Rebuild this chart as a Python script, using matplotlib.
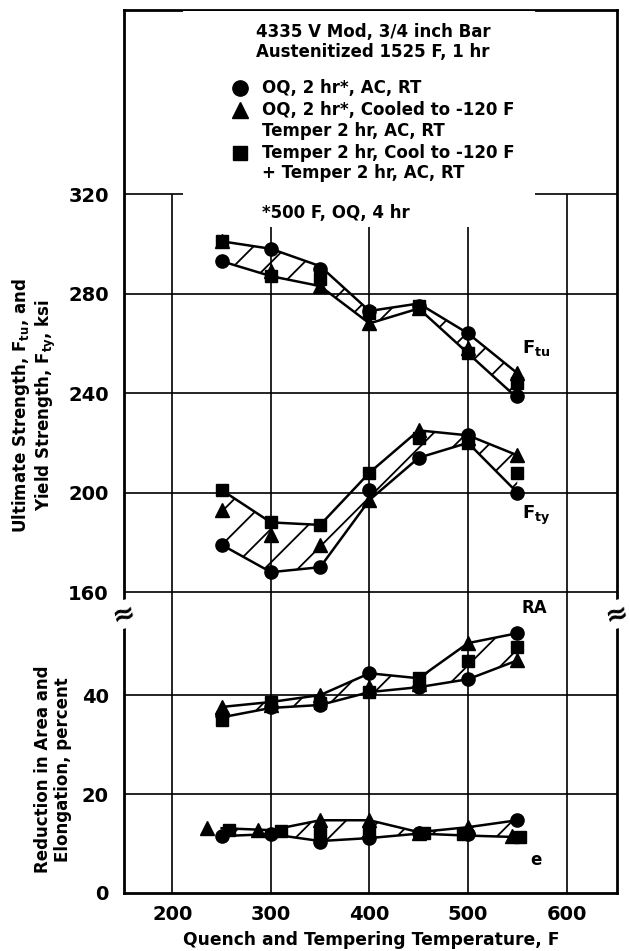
import matplotlib.pyplot as plt

plt.rcParams['font.family'] = ['DejaVu Sans']
plt.rcParams['font.weight'] = 'bold'
plt.rcParams['mathtext.default'] = 'bf'
plt.rcParams['hatch.linewidth'] = 1.3

# tempering temperatures, F
temps = [250, 300, 350, 400, 450, 500, 550]

# ultimate strength, ksi
ftu_circle = [293, 298, 290, 273, 275, 264, 239]
ftu_triangle = [301, 289, 283, 268, 274, 258, 248]
ftu_square = [301, 287, 286, 272, 275, 256, 244]
ftu_hi = [301, 298, 291, 273, 276, 264, 248]
ftu_lo = [293, 287, 283, 268, 274, 256, 238]

# yield strength, ksi
fty_circle = [179, 168, 170, 201, 214, 223, 200]
fty_triangle = [193, 183, 179, 197, 225, 222, 215]
fty_square = [201, 188, 187, 208, 222, 220, 208]
fty_hi = [201, 188, 187, 208, 225, 223, 215]
fty_lo = [179, 168, 170, 197, 214, 220, 200]

# reduction in area, percent
ra_circle = [36, 37.5, 38, 44.4, 41.6, 43.2, 52.5]
ra_triangle = [37.6, 38, 40, 41.6, 42.2, 50.5, 47]
ra_square = [35, 38.6, 38.4, 40.6, 43.4, 46.8, 49.7]
ra_hi = [37.6, 38.6, 40, 44.4, 43.4, 50.5, 52.5]
ra_lo = [35.5, 37.4, 38, 40.6, 41.6, 43.2, 47]

# elongation, percent
e_tri_temps = [235, 287, 350, 400, 450, 500, 545]
e_sq_temps = [257, 310, 350, 400, 455, 495, 553]
e_circle = [11.5, 11.9, 10.3, 11.1, 12.1, 11.9, 14.7]
e_triangle = [13.1, 12.7, 14.7, 14.7, 12.2, 13.3, 11.5]
e_square = [12.7, 12.5, 12.0, 12.5, 12.1, 11.9, 11.3]
e_hi = [13.1, 12.7, 14.7, 14.7, 12.3, 13.3, 14.7]
e_lo = [11.5, 11.9, 10.5, 11.1, 12.0, 11.6, 11.3]

x_ticks = [200, 300, 400, 500, 600]
strength_ticks = [160, 200, 240, 280, 320]
percent_ticks = [0, 20, 40]

fig = plt.figure(figsize=(6.3, 9.51), dpi=100)
left, width = 0.197, 0.782
ax_top = fig.add_axes([left, 0.3586, width, 0.6309])
ax_bot = fig.add_axes([left, 0.0610, width, 0.2976])

xlim = (151, 651)
ax_top.set_xlim(*xlim)
ax_bot.set_xlim(*xlim)
ax_top.set_ylim(152.8, 394)
ax_bot.set_ylim(0, 57.2)

grid_kw = dict(color='black', linewidth=1.2, zorder=1)
ax_top.hlines(strength_ticks, *xlim, **grid_kw)
ax_top.vlines(x_ticks, 152.8, 320, **grid_kw)
ax_bot.hlines(percent_ticks[1:], *xlim, **grid_kw)
ax_bot.vlines(x_ticks, 0, 57.2, **grid_kw)

for ax in (ax_top, ax_bot):
    for s in ax.spines.values():
        s.set_linewidth(2.0)
    ax.tick_params(length=0, labelsize=14, pad=11)
ax_top.spines['bottom'].set_visible(False)
ax_bot.spines['top'].set_visible(False)

ax_top.set_xticks([])
ax_top.set_yticks(strength_ticks)
ax_bot.set_xticks(x_ticks)
ax_bot.set_yticks(percent_ticks)
ax_bot.tick_params(axis='x', pad=9)


def band(ax, x, lo, hi):
    ax.fill_between(x, lo, hi, facecolor='none', edgecolor='black',
                    hatch='/', linewidth=0, zorder=2)
    ax.plot(x, hi, color='black', linewidth=1.8, zorder=3)
    ax.plot(x, lo, color='black', linewidth=1.8, zorder=3)


def points(ax, xc, yc, xt, yt, xs, ys):
    ax.plot(xc, yc, 'o', color='black', markersize=9.5, zorder=4)
    ax.plot(xt, yt, '^', color='black', markersize=10.5, zorder=4)
    ax.plot(xs, ys, 's', color='black', markersize=9, zorder=4)


band(ax_top, temps, ftu_lo, ftu_hi)
points(ax_top, temps, ftu_circle, temps, ftu_triangle, temps, ftu_square)
band(ax_top, temps, fty_lo, fty_hi)
points(ax_top, temps, fty_circle, temps, fty_triangle, temps, fty_square)
band(ax_bot, temps, ra_lo, ra_hi)
points(ax_bot, temps, ra_circle, temps, ra_triangle, temps, ra_square)
band(ax_bot, temps, e_lo, e_hi)
points(ax_bot, temps, e_circle, e_tri_temps, e_triangle, e_sq_temps, e_square)

# curve labels
ax_top.text(555, 258, r'F$_{tu}$', fontsize=13, va='center')
ax_top.text(555, 191, r'F$_{ty}$', fontsize=13, va='center')
ax_bot.text(567, 57.6, 'RA', fontsize=12, ha='center', va='center')
ax_bot.text(569, 6.7, 'e', fontsize=12, ha='center', va='center')

# key block with a white backing over the upper grid
ax_top.add_patch(plt.Rectangle((0.12, 0.638), 0.714, 0.36, transform=ax_top.transAxes,
                               facecolor='white', edgecolor='none', zorder=5))
tkw = dict(transform=ax_top.transAxes, fontsize=12, zorder=6)
ax_top.text(0.505, 0.963, '4335 V Mod, 3/4 inch Bar', ha='center', va='center', **tkw)
ax_top.text(0.505, 0.930, 'Austenitized 1525 F, 1 hr', ha='center', va='center', **tkw)
key_x, txt_x = 0.235, 0.28
mkw = dict(color='black', transform=ax_top.transAxes, zorder=6, clip_on=False)
ax_top.plot([key_x], [0.870], 'o', markersize=11, **mkw)
ax_top.plot([key_x], [0.833], '^', markersize=11, **mkw)
ax_top.plot([key_x], [0.762], 's', markersize=10, **mkw)
ax_top.text(txt_x, 0.870, 'OQ, 2 hr*, AC, RT', va='center', **tkw)
ax_top.text(txt_x, 0.833, 'OQ, 2 hr*, Cooled to -120 F', va='center', **tkw)
ax_top.text(txt_x, 0.798, 'Temper 2 hr, AC, RT', va='center', **tkw)
ax_top.text(txt_x, 0.762, 'Temper 2 hr, Cool to -120 F', va='center', **tkw)
ax_top.text(txt_x, 0.728, '+ Temper 2 hr, AC, RT', va='center', **tkw)
ax_top.text(txt_x, 0.662, '*500 F, OQ, 4 hr', va='center', **tkw)

# axis break marks
for xf in (0.0, 1.0):
    ax_bot.text(xf, 0.985, '≈', transform=ax_bot.transAxes, fontsize=20, rotation=15,
                ha='center', va='center', zorder=7, clip_on=False,
                bbox=dict(facecolor='white', edgecolor='none', pad=0.0))

fig.text(0.054, 0.574, 'Ultimate Strength, F$_{tu}$, and\nYield Strength, F$_{ty}$, ksi',
         rotation=90, ha='center', va='center', fontsize=12, multialignment='center',
         linespacing=1.1)
fig.text(0.084, 0.191, 'Reduction in Area and\nElongation, percent',
         rotation=90, ha='center', va='center', fontsize=12, multialignment='center',
         linespacing=1.1)
fig.text(0.589, 0.012, 'Quench and Tempering Temperature, F',
         ha='center', va='center', fontsize=12.3)

fig.savefig('out.png', dpi=100)
